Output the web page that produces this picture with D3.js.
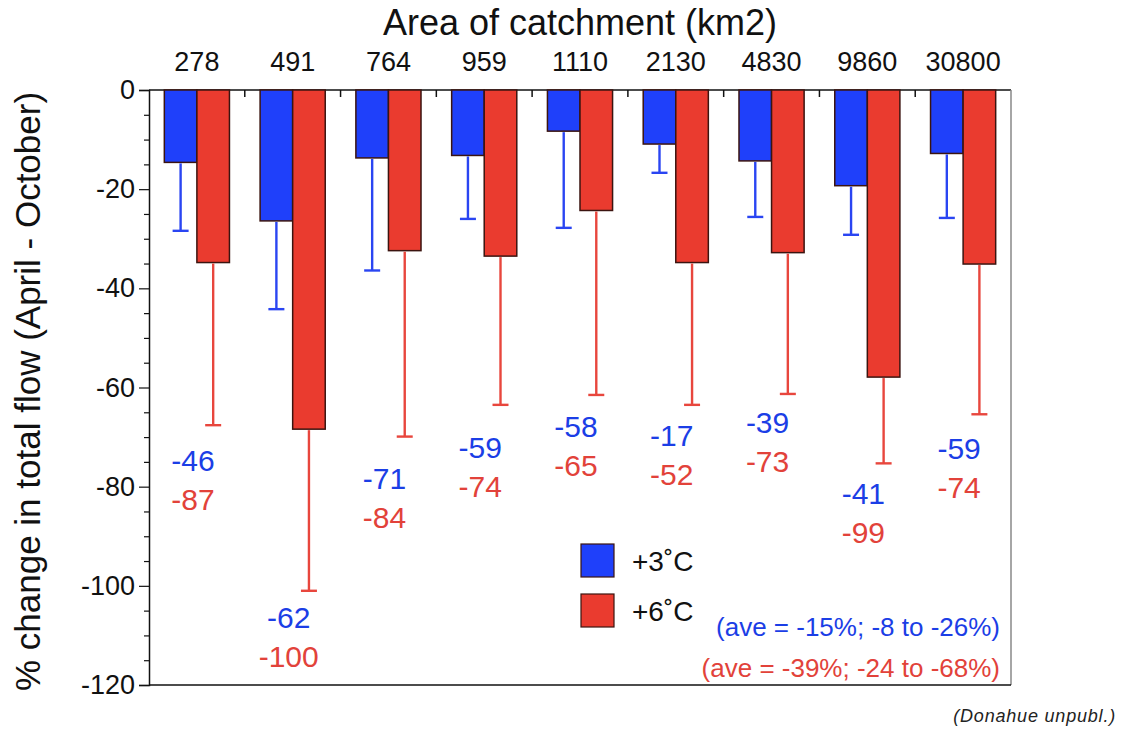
<!DOCTYPE html>
<html>
<head>
<meta charset="utf-8">
<script src="https://cdn.jsdelivr.net/npm/d3@7"></script>
<style>
  body { margin: 0; background: #fff; }
  svg text { font-family: Helvetica, Arial, "Liberation Sans", sans-serif; }
</style>
</head>
<body>
<div id="chart"></div>
<script>
// catchment areas (km2)
const areas = ["278", "491", "764", "959", "1110", "2130", "4830", "9860", "30800"];
// mean % change, +3C and +6C
const plus3 = [-14.6, -26.4, -13.7, -13.2, -8.3, -10.9, -14.3, -19.3, -12.8];
const plus6 = [-34.8, -68.4, -32.4, -33.5, -24.3, -34.8, -32.8, -57.9, -35.1];
// lower end of the whiskers
const plus3Low = [-28.4, -44.2, -36.4, -26.0, -27.8, -16.7, -25.6, -29.2, -25.8];
const plus6Low = [-67.6, -101, -69.9, -63.5, -61.5, -63.5, -61.3, -75.3, -65.4];
// numbers printed under each pair
const min3 = [-46, -62, -71, -59, -58, -17, -39, -41, -59];
const min6 = [-87, -100, -84, -74, -65, -52, -73, -99, -74];
const labelLevel = [-74.6, -106.3, -78.3, -72.0, -67.8, -69.6, -67.0, -81.3, -72.2];
const yTicks = [0, -20, -40, -60, -80, -100, -120];
const series = ["+3˚C", "+6˚C"];
const aveText = ["(ave = -15%; -8 to -26%)", "(ave = -39%; -24 to -68%)"];

const width = 1122, height = 730;
const plotLeft = 149, plotRight = 1011, plotTop = 90, plotBottom = 685;

const blue = "#1f40fa", red = "#ea3b2f";
const blueTxt = "#1b3ee6", redTxt = "#e2423a";

const svg = d3.select("#chart").append("svg")
  .attr("width", width)
  .attr("height", height);

const x = d3.scaleBand()
  .domain(areas)
  .range([plotLeft, plotRight])
  .paddingInner(0.32)
  .paddingOuter(0.16);

const sub = d3.scaleBand()
  .domain(series)
  .range([0, x.bandwidth()]);

const y = d3.scaleLinear()
  .domain([-120, 0])
  .range([plotBottom, plotTop]);

const rows = areas.map((a, i) => ({
  area: a,
  bars: [
    { key: series[0], v: plus3[i], low: plus3Low[i], color: blue, err: "#2a45f2" },
    { key: series[1], v: plus6[i], low: plus6Low[i], color: red, err: "#e8463d" }
  ]
}));

// frame
svg.append("line").attr("x1", plotLeft).attr("x2", plotRight).attr("y1", plotTop).attr("y2", plotTop)
  .attr("stroke", "#111").attr("stroke-width", 1.5);
svg.append("line").attr("x1", plotRight).attr("x2", plotRight).attr("y1", plotTop).attr("y2", plotBottom)
  .attr("stroke", "#888").attr("stroke-width", 1.5);
svg.append("line").attr("x1", plotLeft).attr("x2", plotRight).attr("y1", plotBottom).attr("y2", plotBottom)
  .attr("stroke", "#111").attr("stroke-width", 1.5);

// ticks between groups on the top line
const gapHalf = (x.step() - x.bandwidth()) / 2;
svg.append("g").selectAll("line")
  .data(areas.slice(1))
  .join("line")
  .attr("x1", d => x(d) - gapHalf)
  .attr("x2", d => x(d) - gapHalf)
  .attr("y1", plotTop)
  .attr("y2", plotTop + 7)
  .attr("stroke", "#111")
  .attr("stroke-width", 1.5);

// bars
const groups = svg.append("g").selectAll("g")
  .data(rows)
  .join("g")
  .attr("transform", d => `translate(${x(d.area)},0)`);

groups.selectAll("rect")
  .data(d => d.bars)
  .join("rect")
  .attr("x", d => sub(d.key))
  .attr("y", y(0))
  .attr("width", sub.bandwidth())
  .attr("height", d => y(d.v) - y(0))
  .attr("fill", d => d.color)
  .attr("stroke", "#3b1410")
  .attr("stroke-width", 1.5);

// whiskers
const whisk = groups.selectAll("g.err")
  .data(d => d.bars)
  .join("g")
  .attr("class", "err")
  .attr("stroke", d => d.err)
  .attr("stroke-width", 2.4);

whisk.append("line")
  .attr("x1", d => sub(d.key) + sub.bandwidth() / 2)
  .attr("x2", d => sub(d.key) + sub.bandwidth() / 2)
  .attr("y1", d => y(d.v) + 1)
  .attr("y2", d => y(d.low));

whisk.append("line")
  .attr("x1", d => sub(d.key) + sub.bandwidth() / 2 - 8)
  .attr("x2", d => sub(d.key) + sub.bandwidth() / 2 + 8)
  .attr("y1", d => y(d.low))
  .attr("y2", d => y(d.low));

// y axis, major and minor ticks
const yAxis = svg.append("g")
  .attr("transform", `translate(${plotLeft},0)`)
  .call(d3.axisLeft(y).tickValues(yTicks).tickSize(10).tickPadding(4).tickFormat(d => String(d)));
yAxis.select(".domain").attr("stroke", "#111").attr("stroke-width", 1.5);
yAxis.selectAll(".tick line").attr("stroke", "#111").attr("stroke-width", 1.2);
yAxis.selectAll("text")
  .style("font-size", "27px")
  .attr("fill", "#111");

svg.append("g")
  .attr("transform", `translate(${plotLeft},0)`)
  .call(d3.axisLeft(y)
    .tickValues(d3.range(-115, 0, 5).filter(v => v % 20 !== 0))
    .tickSize(5)
    .tickFormat(""))
  .call(g => g.select(".domain").remove())
  .selectAll(".tick line").attr("stroke", "#111").attr("stroke-width", 1.2);

// category labels on top
const xAxis = svg.append("g")
  .attr("transform", `translate(0,${plotTop})`)
  .call(d3.axisTop(x).tickSize(0).tickPadding(19));
xAxis.select(".domain").remove();
xAxis.selectAll("text")
  .style("font-size", "27px")
  .attr("fill", "#111");

// titles
svg.append("text")
  .attr("x", (plotLeft + plotRight) / 2)
  .attr("y", 35)
  .attr("text-anchor", "middle")
  .style("font-size", "36px")
  .attr("fill", "#111")
  .text("Area of catchment (km2)");

svg.append("text")
  .attr("transform", `translate(40,${(plotTop + plotBottom) / 2 + 4}) rotate(-90)`)
  .attr("text-anchor", "middle")
  .style("font-size", "35px")
  .attr("fill", "#111")
  .text("% change in total flow (April - October)");

// value labels under each pair
const labels = svg.append("g").selectAll("g")
  .data(areas)
  .join("g")
  .attr("transform", (d, i) => `translate(${x(d) + x.bandwidth() / 2 - 4},${y(labelLevel[i])})`)
  .style("font-size", "30px")
  .attr("text-anchor", "middle");

labels.append("text")
  .attr("y", 11)
  .attr("fill", blueTxt)
  .text((d, i) => min3[i]);

labels.append("text")
  .attr("y", 50)
  .attr("fill", redTxt)
  .text((d, i) => min6[i]);

// legend
const legend = svg.append("g")
  .attr("transform", "translate(581,544)");

const legendItems = legend.selectAll("g")
  .data([{ key: series[0], color: blue }, { key: series[1], color: red }])
  .join("g")
  .attr("transform", (d, i) => `translate(0,${i * 50})`);

legendItems.append("rect")
  .attr("width", 33)
  .attr("height", 33)
  .attr("fill", d => d.color)
  .attr("stroke", "#3b1410")
  .attr("stroke-width", 1.2);

legendItems.append("text")
  .attr("x", 51)
  .attr("y", 27)
  .style("font-size", "28px")
  .attr("fill", "#111")
  .text(d => d.key);

// averages
svg.append("g").selectAll("text")
  .data(aveText)
  .join("text")
  .attr("x", 1000)
  .attr("y", (d, i) => 636 + i * 41)
  .attr("text-anchor", "end")
  .style("font-size", "26px")
  .attr("fill", (d, i) => i === 0 ? blueTxt : redTxt)
  .text(d => d);

svg.append("text")
  .attr("x", 1116)
  .attr("y", 722)
  .attr("text-anchor", "end")
  .style("font-size", "18px")
  .style("font-style", "italic")
  .style("letter-spacing", "0.8px")
  .attr("fill", "#222")
  .text("(Donahue unpubl.)");
</script>
</body>
</html>
